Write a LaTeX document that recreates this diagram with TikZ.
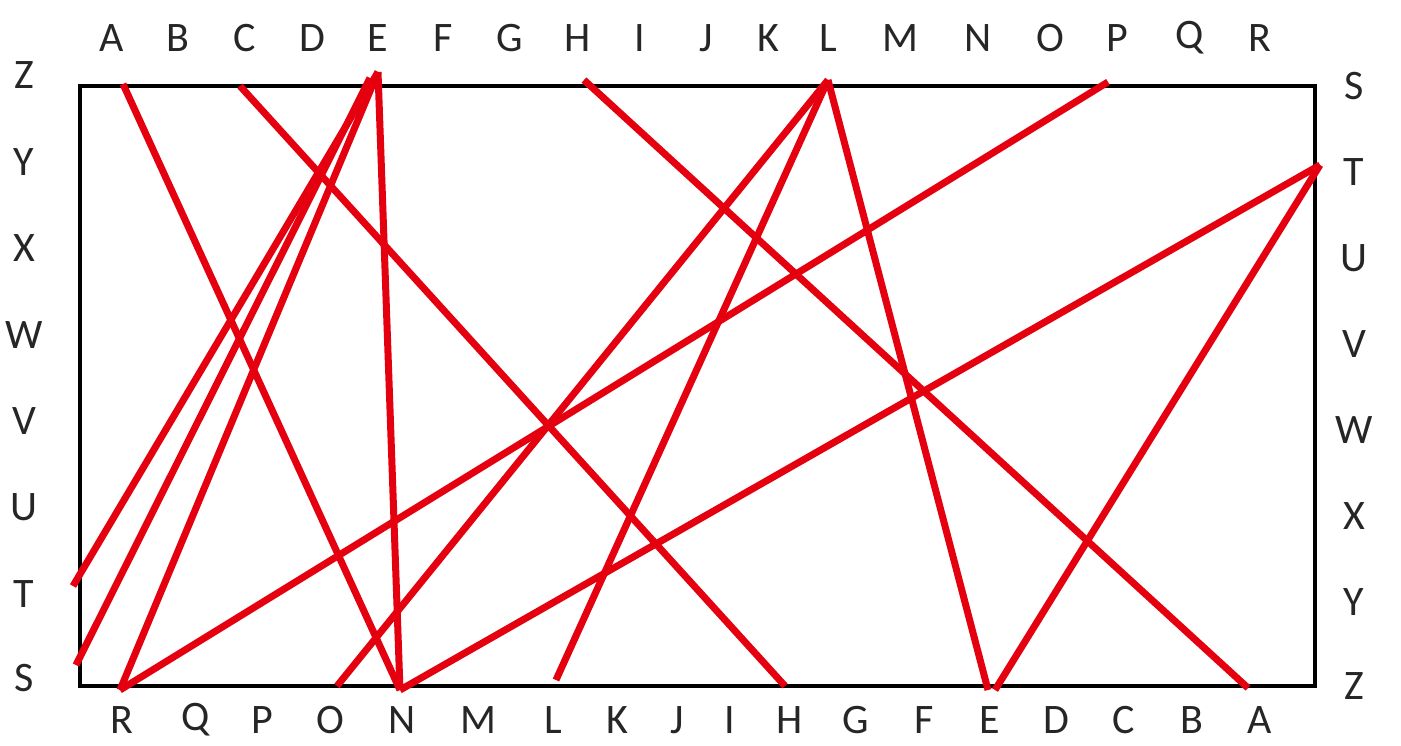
\documentclass[tikz,border=0pt]{standalone}
\usepackage{fontspec}
\setmainfont{Carlito}
\begin{document}
\begin{tikzpicture}[x=1pt,y=-1pt,
  lbl/.style={font=\fontsize{42}{42}\selectfont, text=black!85, inner sep=0pt, anchor=center},
  frame/.style={draw=black, line width=4.5pt},
  link/.style={draw={rgb,255:red,228;green,0;blue,15}, line width=7pt}]
\useasboundingbox (0,0) rectangle (1401,746);
\draw[frame] (80,86) rectangle (1315,686);
% top letters
\foreach \l/\x in {A/112,B/178,C/245,D/312,E/378,F/443,G/510,H/578,I/640,J/706,K/768,L/828,M/900,N/978,O/1050,P/1117,Q/1190,R/1260}
  \node[lbl] (t\l) at (\x,38) {\l};
% left letters
\foreach \l/\y in {Z/75,Y/162,X/248,W/335,V/421,U/507,T/594,S/678}
  \node[lbl] (l\l) at (24,\y) {\l};
% right letters
\foreach \l/\y in {S/86,T/172,U/258,V/344,W/430,X/516,Y/602,Z/686}
  \node[lbl] (r\l) at (1354,\y) {\l};
% bottom letters
\foreach \l/\x in {R/122,Q/196,P/262,O/330,N/402,M/478,L/553,K/617,J/677,I/730,H/790,G/856,F/924,E/990,D/1056,C/1124,B/1192,A/1260}
  \node[lbl] (b\l) at (\x,720) {\l};
% endpoints
\coordinate (pA) at (123,84);
\coordinate (pC) at (240,86);
\coordinate (pE) at (378,72);
\coordinate (pE2) at (370,78);
\coordinate (pH) at (584,80);
\coordinate (pL) at (828,80);
\coordinate (pP) at (1108,82);
\coordinate (pT) at (1320,165);
\coordinate (qT) at (73,586);
\coordinate (qS) at (76,665);
\coordinate (qR) at (120,690);
\coordinate (qO) at (337,686);
\coordinate (qN) at (400,690);
\coordinate (qL) at (556,680);
\coordinate (qH) at (785,686);
\coordinate (qE) at (988,690);
\coordinate (qE2) at (995,690);
\coordinate (qA) at (1248,688);
% links
\draw[link] (pA) -- (qN);
\draw[link] (pC) -- (qH);
\draw[link] (pE) -- (qT);
\draw[link] (pE2) -- (qS);
\draw[link] (pE) -- (qR);
\draw[link] (pE) -- (qN);
\draw[link] (pH) -- (qA);
\draw[link] (pL) -- (qO);
\draw[link] (pL) -- (qL);
\draw[link] (pL) -- (qE);
\draw[link] (pP) -- (qR);
\draw[link] (pT) -- (qN);
\draw[link] (pT) -- (qE2);
\end{tikzpicture}
\end{document}
